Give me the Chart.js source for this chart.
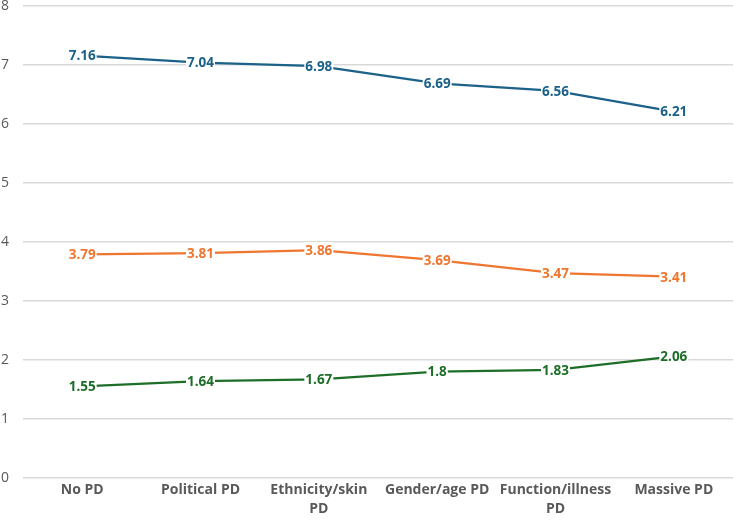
<!DOCTYPE html>
<html lang="en">
<head>
  <meta charset="UTF-8">
  <title>PD chart</title>
  <style>
    html, body {
      margin: 0;
      padding: 0;
      background: #fff;
    }
    #wrap {
      width: 734px;
      height: 521px;
    }
  </style>
</head>
<body>
  <div id="wrap"><canvas id="chart"></canvas></div>

  <script src="https://cdn.jsdelivr.net/npm/chart.js"></script>
  <script>
    const categories = ['No PD', 'Political PD', ['Ethnicity/skin', 'PD'], 'Gender/age PD', ['Function/illness', 'PD'], 'Massive PD'];
    const blueValues = [7.16, 7.04, 6.98, 6.69, 6.56, 6.21];
    const orangeValues = [3.79, 3.81, 3.86, 3.69, 3.47, 3.41];
    const greenValues = [1.55, 1.64, 1.67, 1.8, 1.83, 2.06];
    const yTicks = [0, 1, 2, 3, 4, 5, 6, 7, 8];

    const FONT = '"Open Sans", "Liberation Sans", sans-serif';

    // draws value labels centred on each point, on a white box
    const valueLabels = {
      id: 'valueLabels',
      afterDatasetsDraw(chart) {
        const ctx = chart.ctx;
        ctx.save();
        ctx.font = 'bold 13.5px ' + FONT;
        ctx.textAlign = 'center';
        ctx.textBaseline = 'middle';
        chart.data.datasets.forEach((ds, i) => {
          const meta = chart.getDatasetMeta(i);
          meta.data.forEach((pt, j) => {
            const txt = String(ds.data[j]);
            const w = ctx.measureText(txt).width;
            ctx.fillStyle = '#fff';
            ctx.fillRect(pt.x - w / 2 - 1, pt.y - 8, w + 2, 16);
            ctx.fillStyle = ds.borderColor;
            ctx.fillText(txt, pt.x, pt.y + 1);
          });
        });
        ctx.restore();
      }
    };

    function line(values, color) {
      return {
        data: values,
        borderColor: color,
        backgroundColor: color,
        borderWidth: 2.25,
        pointRadius: 0,
        fill: false,
        tension: 0
      };
    }

    new Chart(document.getElementById('chart'), {
      type: 'line',
      data: {
        labels: categories,
        datasets: [
          line(blueValues, '#1b6189'),
          line(orangeValues, '#ee7630'),
          line(greenValues, '#1d6e28')
        ]
      },
      options: {
        responsive: true,
        maintainAspectRatio: false,
        animation: false,
        layout: { padding: { top: 6, right: 1, bottom: 0, left: 0 } },
        plugins: {
          legend: { display: false },
          tooltip: { enabled: false }
        },
        scales: {
          x: {
            offset: true,
            grid: { display: false, drawTicks: false },
            border: { display: false },
            ticks: {
              color: '#595959',
              font: { family: FONT, size: 14, weight: 'bold', lineHeight: 1.4 },
              maxRotation: 0,
              autoSkip: false,
              padding: 2
            }
          },
          y: {
            min: 0,
            max: 8,
            afterFit(scale) {
              scale.width = 23;
              scale.paddingTop = 0;
              scale.paddingBottom = 0;
            },
            afterBuildTicks(scale) { scale.ticks = yTicks.map(v => ({ value: v })); },
            grid: { color: '#d9d9d9', lineWidth: 1.5, drawTicks: false },
            border: { display: false },
            ticks: {
              color: '#595959',
              font: { family: FONT, size: 14 },
              padding: 14,
              align: 'center'
            }
          }
        }
      },
      plugins: [valueLabels]
    });
  </script>
</body>
</html>
